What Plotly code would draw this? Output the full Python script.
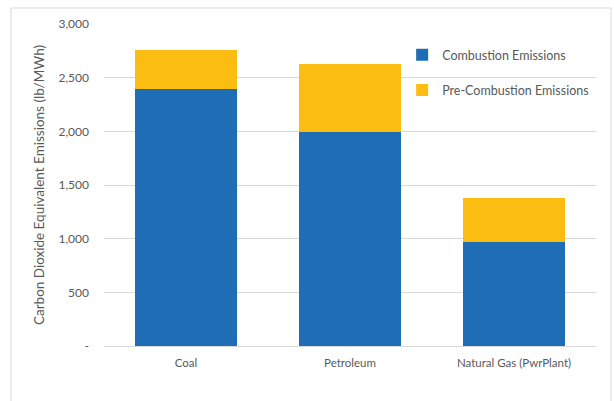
import plotly.graph_objects as go

categories = ["Coal", "Petroleum", "Natural Gas (PwrPlant)"]
combustion = [2390, 1995, 970]
pre_combustion = [370, 630, 410]
tick_vals = [0, 500, 1000, 1500, 2000, 2500, 3000]
tick_text = ["-", "500", "1,000", "1,500", "2,000", "2,500", "3,000"]

FONT = "Lato, 'Open Sans', sans-serif"
GRAY = "#595959"

fig = go.Figure()
fig.add_trace(go.Bar(x=categories, y=combustion, name="Combustion Emissions",
                     marker=dict(color="#1f6db5", line=dict(width=0)), legendgroup="a"))
fig.add_trace(go.Bar(x=categories, y=pre_combustion, name="Pre-Combustion Emissions",
                     marker=dict(color="#fbbd12", line=dict(width=0)), legendgroup="b"))

fig.update_layout(
    width=614, height=401,
    barmode="stack", bargap=0.38,
    paper_bgcolor="white", plot_bgcolor="white",
    margin=dict(l=104, r=18, t=24, b=55),
    font=dict(family=FONT, size=12, color=GRAY),
    legend=dict(x=0.606, y=0.95, xanchor="left", yanchor="top",
                tracegroupgap=16, font=dict(size=12.5, color=GRAY),
                bgcolor="rgba(0,0,0,0)"),
    xaxis=dict(showgrid=False, showline=True, linecolor="#d9d9d9", linewidth=1,
               ticks="", tickfont=dict(size=11.5, color=GRAY), range=[-0.5, 2.5],
               ticklabelstandoff=6),
    yaxis=dict(range=[0, 3000], tickvals=tick_vals, ticktext=tick_text,
               showgrid=True, gridcolor="#d9d9d9", gridwidth=1, zeroline=False,
               showline=False, ticks="", ticklabelstandoff=14,
               tickfont=dict(size=12, color=GRAY),
               title=dict(text="Carbon Dioxide Equivalent Emissions (lb/MWh)",
                          font=dict(size=13.5, color=GRAY), standoff=10)),
    shapes=[dict(type="rect", xref="paper", yref="paper",
                 x0=-0.189, x1=1.0305, y0=-0.2, y1=1.0497,
                 line=dict(color="#d9d9d9", width=1), fillcolor="rgba(0,0,0,0)",
                 layer="below")],
)

fig.write_html("out.html")
